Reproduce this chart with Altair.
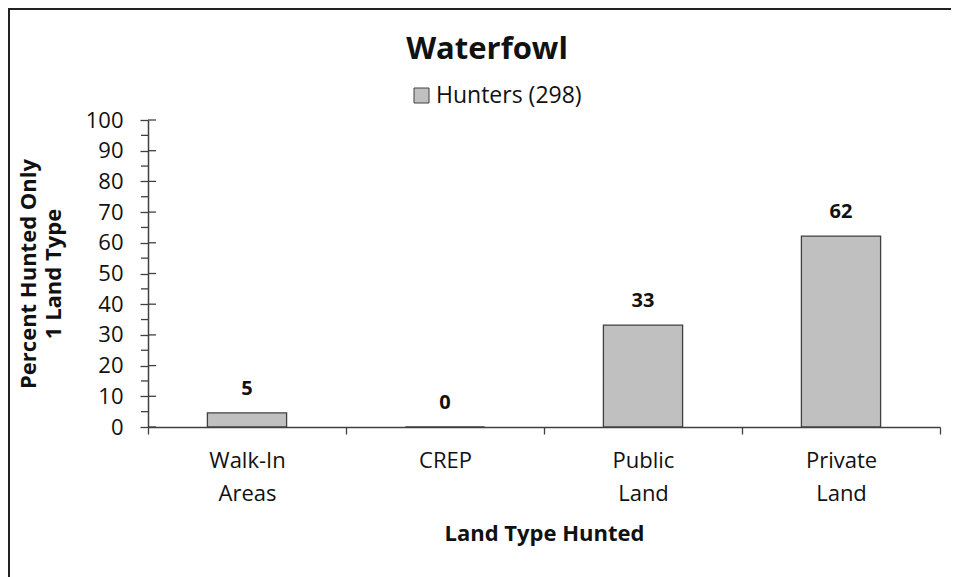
import altair as alt
import pandas as pd

# ---- data ----
categories = ["Walk-In Areas", "CREP", "Public Land", "Private Land"]
values = [4.6, 0.0, 33.2, 62.2]
value_labels = ["5", "0", "33", "62"]
series_name = "Hunters (298)"
y_major = [0, 10, 20, 30, 40, 50, 60, 70, 80, 90, 100]
y_minor = [5, 15, 25, 35, 45, 55, 65, 75, 85, 95]

df = pd.DataFrame({
    "category": categories,
    "value": values,
    "label": value_labels,
    "series": [series_name] * len(categories),
})

FONT = "Open Sans"
AXIS_COLOR = "#404040"
TEXT_COLOR = "#111111"

x_enc = alt.X(
    "category:N",
    sort=categories,
    scale=alt.Scale(paddingInner=0, paddingOuter=0),
    axis=alt.Axis(
        title="Land Type Hunted",
        labelAngle=0,
        labelExpr="split(datum.label, ' ')",
        tickBand="extent",
        tickSize=7,
        labelPadding=16,
        labelLineHeight=33,
        labelFontSize=22,
        titleFontSize=22,
        titleFontWeight="bold",
        titleBaseline="top",
        titleY=96,
    ),
)

y_axis = alt.Axis(
    values=y_major,
    labelOverlap=False,
    tickSize=8,
    labelPadding=17,
    labelFontSize=22,
    title=["Percent Hunted Only", "1 Land Type"],
    titleFontSize=22,
    titleFontWeight="bold",
    titleAngle=270,
    titleBaseline="top",
    titleAlign="center",
    titleX=-130,
    titleY=153.5,
    titleLineHeight=25,
)

y_enc = alt.Y("value:Q", scale=alt.Scale(domain=[0, 100], nice=False), axis=y_axis)

bars = alt.Chart(df).mark_bar(
    width={"band": 0.4}, stroke=AXIS_COLOR, strokeWidth=1.3
).encode(
    x=x_enc,
    y=y_enc,
    color=alt.Color(
        "series:N",
        scale=alt.Scale(range=["#C0C0C0"]),
        legend=alt.Legend(
            title=None,
            orient="none",
            legendX=262,
            legendY=-36,
            symbolType="square",
            symbolSize=225,
            symbolStrokeColor=AXIS_COLOR,
            symbolStrokeWidth=1,
            labelFontSize=23,
            labelFont=FONT,
            labelColor=TEXT_COLOR,
            labelOffset=3,
        ),
    ),
)

texts = alt.Chart(df).mark_text(
    dy=-18, baseline="alphabetic", fontWeight="bold", fontSize=20, font=FONT, color=TEXT_COLOR
).encode(
    x=alt.X("category:N", sort=categories),
    y=alt.Y("value:Q", axis=y_axis),
    text="label:N",
)

# major ticks cross the axis: extend them into the plot
cross = alt.Chart(pd.DataFrame({"value": y_major})).mark_rule(
    color=AXIS_COLOR, strokeWidth=1.3
).encode(
    y=alt.Y("value:Q", axis=y_axis),
    x=alt.value(0),
    x2=alt.value(8),
)

# minor ticks, outside only
minor = alt.Chart(pd.DataFrame({"value": y_minor})).mark_rule(
    color=AXIS_COLOR, strokeWidth=1.3
).encode(
    y=alt.Y("value:Q", axis=y_axis),
    x=alt.value(-7),
    x2=alt.value(0),
)

frame_dummy = pd.DataFrame({"f": [0]})
frame_left = alt.Chart(frame_dummy).mark_rule(color="#222222", strokeWidth=2).encode(
    x=alt.value(-139), y=alt.value(-111), y2=alt.value(460)
)
frame_top = alt.Chart(frame_dummy).mark_rule(color="#222222", strokeWidth=2).encode(
    x=alt.value(-140), x2=alt.value(803), y=alt.value(-111)
)

chart = alt.layer(bars, texts, cross, minor, frame_left, frame_top).properties(
    width=792,
    height=307,
    autosize=alt.AutoSizeParams(type="none"),
    padding={"left": 140, "top": 112, "right": 11, "bottom": 150},
    title=alt.TitleParams(
        "Waterfowl",
        font=FONT,
        fontSize=31,
        fontWeight="bold",
        color=TEXT_COLOR,
        anchor="middle",
        frame="group",
        baseline="alphabetic",
        offset=0,
        dy=82,
        dx=-57,
    ),
).configure_view(
    stroke=None
).configure_axis(
    grid=False,
    domainColor=AXIS_COLOR,
    domainWidth=1.5,
    tickColor=AXIS_COLOR,
    tickWidth=1.3,
    labelFont=FONT,
    titleFont=FONT,
    labelColor=TEXT_COLOR,
    titleColor=TEXT_COLOR,
)

chart.save("out.html", embed_options={"renderer": "svg", "actions": False})
